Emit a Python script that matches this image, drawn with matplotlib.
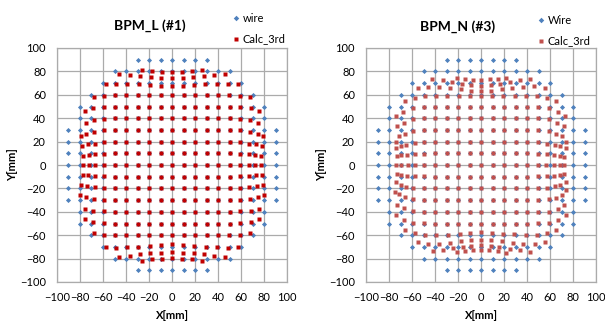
import numpy as np
import matplotlib.pyplot as plt
from matplotlib.lines import Line2D

plt.rcParams['font.family'] = ['Lato', 'DejaVu Sans']

# wire grid: one row per y, points every 10 mm out to +/- half width
wire_rows = [90, 80, 70, 60, 50, 40, 30, 20, 10, 0, -10, -20, -30, -40, -50, -60, -70, -80, -90]
wire_half = [30, 50, 60, 70, 80, 80, 90, 90, 90, 90, 90, 90, 90, 80, 80, 70, 60, 50, 30]

mid9 = [-40, -30, -20, -10, 0, 10, 20, 30, 40]
mid11 = [-50, -40, -30, -20, -10, 0, 10, 20, 30, 40, 50]

# BPM_L (#1) Calc_3rd, one list per wire row
calc_l_x = [
    [-25.8, -17.4, -8.7, 0, 8.7, 17.4, 25.8],
    [-46.1, -36.8, -27.6, -18.6, -9.3, 0, 9.3, 18.6, 27.6, 36.8, 46.1],
    [-57.7, -48.4, -38.9, -29.0, -19.4, -9.9, 0, 9.9, 19.4, 29.0, 38.9, 48.4, 57.7],
    [-68.1, -59.4, -49.9] + mid9 + [49.9, 59.4, 68.1],
    [-76.0, -68.7, -59.4] + mid11 + [59.4, 68.7, 76.0],
    [-75.0, -68.1, -59.4] + mid11 + [59.4, 68.1, 75.0],
    [-79.5, -74.5, -67.9, -59.4] + mid11 + [59.4, 67.9, 74.5, 79.5],
    [-78.3, -73.1, -66.7, -59.4] + mid11 + [59.4, 66.7, 73.1, 78.3],
    [-77.4, -72.2, -66.7, -59.4] + mid11 + [59.4, 66.7, 72.2, 77.4],
    [-77.4, -72.2, -66.7, -59.4] + mid11 + [59.4, 66.7, 72.2, 77.4],
    [-77.8, -72.8, -66.7, -59.4] + mid11 + [59.4, 66.7, 73.0, 78.0],
    [-78.9, -73.7, -67.3, -59.4] + mid11 + [59.4, 67.3, 73.7, 78.9],
    [-79.7, -74.5, -67.9, -59.4] + mid11 + [59.4, 67.9, 74.5, 79.7],
    [-75.4, -68.7, -59.4] + mid11 + [59.4, 68.7, 75.4],
    [-76.0, -68.7, -59.4] + mid11 + [59.4, 68.7, 76.0],
    [-68.1, -59.4, -49.9] + mid9 + [49.9, 59.4, 68.1],
    [-57.7, -48.4, -38.9, -29.2, -19.4, -9.9, 0, 9.9, 19.4, 29.2, 38.9, 48.4, 57.7],
    [-46.1, -36.8, -27.6, -18.9, -9.3, 0, 9.3, 18.9, 27.6, 36.8, 46.1],
    [-25.8, -17.4, -8.7, 0, 8.7, 17.4, 25.8],
]
calc_l_y = [
    [81.2, 80.3, 79.8, 79.8, 79.8, 80.3, 81.2],
    [77.5, 76.9, 76.1, 75.5, 74.6, 74.3, 74.6, 75.5, 76.1, 76.9, 77.5],
    [68.9, 69.5, 69.5, 68.9, 68.4, 67.8, 67.5, 67.8, 68.4, 68.9, 69.5, 69.5, 68.9],
    [57.8, 59.4, 59.8, 60, 60, 60, 60, 60, 60, 60, 60, 60, 59.8, 59.4, 57.8],
    [46.2, 48.4, 49.6, 50, 50, 50, 50, 50, 50, 50, 50, 50, 50, 50, 49.6, 48.4, 46.2],
    [36.2, 38.2, 39.6, 40, 40, 40, 40, 40, 40, 40, 40, 40, 40, 40, 39.6, 38.2, 36.2],
    [25.1, 26.8, 27.9, 29.5, 30, 30, 30, 30, 30, 30, 30, 30, 30, 30, 30, 29.5, 27.9, 26.8, 25.1],
    [16.5, 17.7, 18.2, 19.4, 20, 20, 20, 20, 20, 20, 20, 20, 20, 20, 20, 19.4, 18.2, 17.7, 16.5],
    [8.0, 8.5, 9.1, 9.7, 10, 10, 10, 10, 10, 10, 10, 10, 10, 10, 10, 9.7, 9.1, 8.5, 8.0],
    [0, 0, 0, 0, 0, 0, 0, 0, 0, 0, 0, 0, 0, 0, 0, 0, 0, 0, 0],
    [-8.5, -8.8, -9.4, -9.8, -10, -10, -10, -10, -10, -10, -10, -10, -10, -10, -10, -9.8, -9.4, -8.8, -8.5],
    [-17.0, -18.0, -19.0, -19.6, -20, -20, -20, -20, -20, -20, -20, -20, -20, -20, -20, -19.6, -19.0, -18.0, -17.0],
    [-25.6, -27.6, -29.0, -29.6, -30, -30, -30, -30, -30, -30, -30, -30, -30, -30, -30, -29.6, -29.0, -27.6, -25.6],
    [-37.3, -39.0, -39.7, -40, -40, -40, -40, -40, -40, -40, -40, -40, -40, -40, -39.7, -39.0, -37.3],
    [-46.4, -48.7, -49.6, -50, -50, -50, -50, -50, -50, -50, -50, -50, -50, -50, -49.6, -48.7, -46.4],
    [-58.4, -59.5, -59.8, -60, -60, -60, -60, -60, -60, -60, -60, -60, -59.8, -59.5, -58.4],
    [-69.8, -70.7, -70.4, -69.8, -69.0, -68.4, -67.8, -68.4, -69.0, -69.8, -70.4, -70.7, -69.8],
    [-78.3, -77.5, -76.4, -75.5, -75.0, -74.0, -75.0, -75.5, -76.4, -77.5, -78.3],
    [-81.8, -80.6, -80.3, -79.8, -80.3, -80.6, -81.8],
]

# BPM_N (#3) Calc_3rd, one list per wire row
calc_n_x = [
    [-24.8, -16.8, -8.6, 0, 8.6, 16.8, 24.8],
    [-42.6, -33.3, -20.6, -14.2, -7.0, 0, 7.5, 14.8, 21.4, 33.6, 42.9],
    [-54.8, -46.1, -36.8, -27.0, -17.1, -8.4, 0, 9.0, 18.2, 27.2, 36.5, 46.1, 55.3],
    [-65.8, -57.7, -49.0, -39.4, -29.2, -19.5, -9.8, 0, 9.8, 19.5, 29.2, 39.4, 48.7, 57.4, 65.5],
    [-73.9, -67.5, -59.1, -49.5] + mid9 + [49.5, 59.1, 67.0, 73.3],
    [-72.8, -66.7, -59.4, -49.6] + mid9 + [49.6, 59.4, 66.3, 71.9],
    [-74.2, -71.3, -65.8, -58.8, -49.7] + mid9 + [49.7, 58.8, 65.5, 70.4, 73.6],
    [-73.6, -69.9, -64.9, -57.6, -49.7] + mid9 + [49.7, 57.6, 64.3, 68.9, 73.5],
    [-73.0, -69.3, -64.3, -57.7, -49.6] + mid9 + [49.5, 57.6, 63.4, 68.4, 71.9],
    [-73.9, -69.3, -63.5, -57.1, -49.5] + mid9 + [49.5, 56.8, 63.1, 68.4, 71.9],
    [-73.0, -69.3, -64.3, -57.7, -49.6] + mid9 + [49.5, 57.4, 63.4, 68.4, 71.9],
    [-73.9, -69.9, -65.2, -58.8, -49.7] + mid9 + [49.7, 57.6, 64.6, 69.0, 73.9],
    [-74.5, -71.6, -65.8, -59.1, -49.7] + mid9 + [49.7, 58.8, 65.5, 70.7, 73.6],
    [-72.8, -67.2, -59.4, -49.6] + mid9 + [49.6, 59.1, 66.8, 72.1],
    [-73.9, -67.2, -59.1, -49.5] + mid9 + [49.5, 58.8, 67.0, 73.6],
    [-65.8, -57.7, -49.0, -39.1, -28.7, -18.5, -9.5, 0, 9.5, 19.1, 28.7, 38.8, 48.7, 57.6, 65.5],
    [-55.1, -46.1, -36.8, -27.2, -17.1, -8.4, 0, 9.0, 18.5, 27.8, 36.5, 46.6, 55.3],
    [-41.7, -33.0, -20.9, -14.2, -7.2, 0, 7.0, 14.8, 21.4, 33.6, 42.9],
    [-24.6, -15.9, -9.0, 0, 9.0, 15.9, 25.5],
]
calc_n_y = [
    [70.7, 69.1, 68.5, 67.8, 68.5, 69.1, 70.9],
    [73.1, 72.3, 74.3, 73.1, 72.6, 72.3, 73.1, 73.4, 74.3, 72.3, 73.4],
    [65.7, 66.9, 66.3, 65.4, 64.6, 63.4, 63.4, 63.6, 64.9, 65.7, 66.6, 67.1, 65.4],
    [54.3, 57.1, 58.9, 59.4, 58.6, 58.8, 59.0, 59.0, 59.0, 58.8, 58.6, 59.4, 58.9, 57.1, 54.3],
    [42.0, 45.7, 48.6, 49.6, 50, 50, 50, 50, 50, 50, 50, 50, 50, 49.6, 48.6, 45.7, 42.0],
    [33.1, 36.3, 39.4, 39.9, 40, 40, 40, 40, 40, 40, 40, 40, 40, 39.9, 39.4, 36.3, 33.1],
    [20.0, 24.9, 26.9, 29.3, 29.9, 30, 30, 30, 30, 30, 30, 30, 30, 30, 29.9, 29.3, 26.9, 24.9, 20.0],
    [14.3, 16.0, 17.4, 18.5, 19.8, 20, 20, 20, 20, 20, 20, 20, 20, 20, 19.8, 18.3, 17.4, 16.0, 14.5],
    [7.3, 8.2, 8.8, 9.3, 9.8, 10, 10, 10, 10, 10, 10, 10, 10, 10, 9.8, 9.2, 8.5, 7.6, 6.8],
    [0, 0, 0, 0, 0, 0, 0, 0, 0, 0, 0, 0, 0, 0, 0, 0, 0, 0, 0],
    [-7.7, -8.6, -9.1, -9.3, -9.8, -10, -10, -10, -10, -10, -10, -10, -10, -10, -9.8, -9.4, -9.1, -8.6, -7.7],
    [-14.9, -17.1, -18.6, -19.5, -19.9, -20, -20, -20, -20, -20, -20, -20, -20, -20, -19.9, -19.7, -18.3, -16.9, -14.9],
    [-22.9, -25.1, -27.7, -29.4, -29.9, -30, -30, -30, -30, -30, -30, -30, -30, -30, -29.9, -29.4, -28.0, -25.4, -21.7],
    [-34.3, -37.1, -39.5, -39.9, -40, -40, -40, -40, -40, -40, -40, -40, -40, -39.9, -40.0, -37.7, -34.0],
    [-42.9, -46.6, -49.4, -49.8, -50, -50, -50, -50, -50, -50, -50, -50, -50, -49.8, -49.5, -47.1, -43.1],
    [-55.7, -58.0, -59.7, -59.7, -59.7, -58.6, -57.7, -57.1, -57.7, -58.6, -59.1, -59.7, -59.7, -58.0, -55.7],
    [-65.7, -67.4, -67.1, -66.3, -65.1, -64.3, -64.0, -64.3, -65.1, -66.3, -67.1, -67.7, -66.0],
    [-73.4, -72.3, -74.6, -73.4, -72.9, -72.3, -72.9, -73.4, -74.9, -72.9, -74.3],
    [-71.1, -70.0, -69.4, -68.6, -69.4, -70.0, -71.4],
]

W, H = 605, 322
BLUE = '#4F81BD'
GRID = '#ABABAB'


def wire_points():
    xs, ys = [], []
    for y, h in zip(wire_rows, wire_half):
        row = np.arange(-h, h + 1, 10)
        xs.extend(row)
        ys.extend([y] * len(row))
    return np.array(xs), np.array(ys)


def flat(rows):
    return np.concatenate([np.asarray(r, dtype=float) for r in rows])


def fx(px):
    return px / W


def fy(py):
    return 1 - py / H


def panel(fig, left, title, title_xy, leg_xy, labels, calc_x, calc_y, red):
    ax = fig.add_axes([fx(left), fy(282), 230 / W, 234 / H])
    wx, wy = wire_points()
    ax.plot(wx, wy, ls='none', marker='D', ms=2.6, mfc=BLUE, mec='none', zorder=3)
    ax.plot(flat(calc_x), flat(calc_y), ls='none', marker='s', ms=2.9,
            mfc=red, mec='none', zorder=4)

    ax.set_xlim(-100, 100)
    ax.set_ylim(-100, 100)
    ticks = np.arange(-100, 101, 20)
    ax.set_xticks(ticks)
    ax.set_yticks(ticks)
    ax.grid(True, color=GRID, lw=0.9)
    ax.set_axisbelow(True)
    for s in ax.spines.values():
        s.set_color(GRID)
        s.set_linewidth(0.9)
    ax.tick_params(length=0, labelsize=8, colors='#000000')
    ax.tick_params(axis='y', pad=8)
    ax.tick_params(axis='x', pad=7)
    ax.set_xlabel('X[mm]', fontsize=8, fontweight='bold', labelpad=5)
    ax.set_ylabel('Y[mm]', fontsize=8, fontweight='bold', labelpad=1)

    fig.text(fx(title_xy[0]), fy(title_xy[1]), title, ha='center', va='center',
             fontsize=10, fontweight='bold')

    mx, my = leg_xy
    for i, (lab, mk, col) in enumerate([(labels[0], 'D', BLUE), (labels[1], 's', red)]):
        yy = my + i * 21
        fig.add_artist(Line2D([fx(mx)], [fy(yy)], transform=fig.transFigure,
                              ls='none', marker=mk, ms=2.8, mfc=col, mec='none'))
        fig.text(fx(mx + 7), fy(yy), lab, ha='left', va='center', fontsize=8)
    return ax


fig = plt.figure(figsize=(W / 100, H / 100), dpi=100)
fig.patch.set_facecolor('white')

panel(fig, 57, 'BPM_L (#1)', (150, 26), (236, 18), ['wire', 'Calc_3rd'],
      calc_l_x, calc_l_y, '#C00000')
panel(fig, 366, 'BPM_N (#3)', (458, 27), (541, 20), ['Wire', 'Calc_3rd'],
      calc_n_x, calc_n_y, '#C0504D')

fig.savefig('out.png', dpi=100)
